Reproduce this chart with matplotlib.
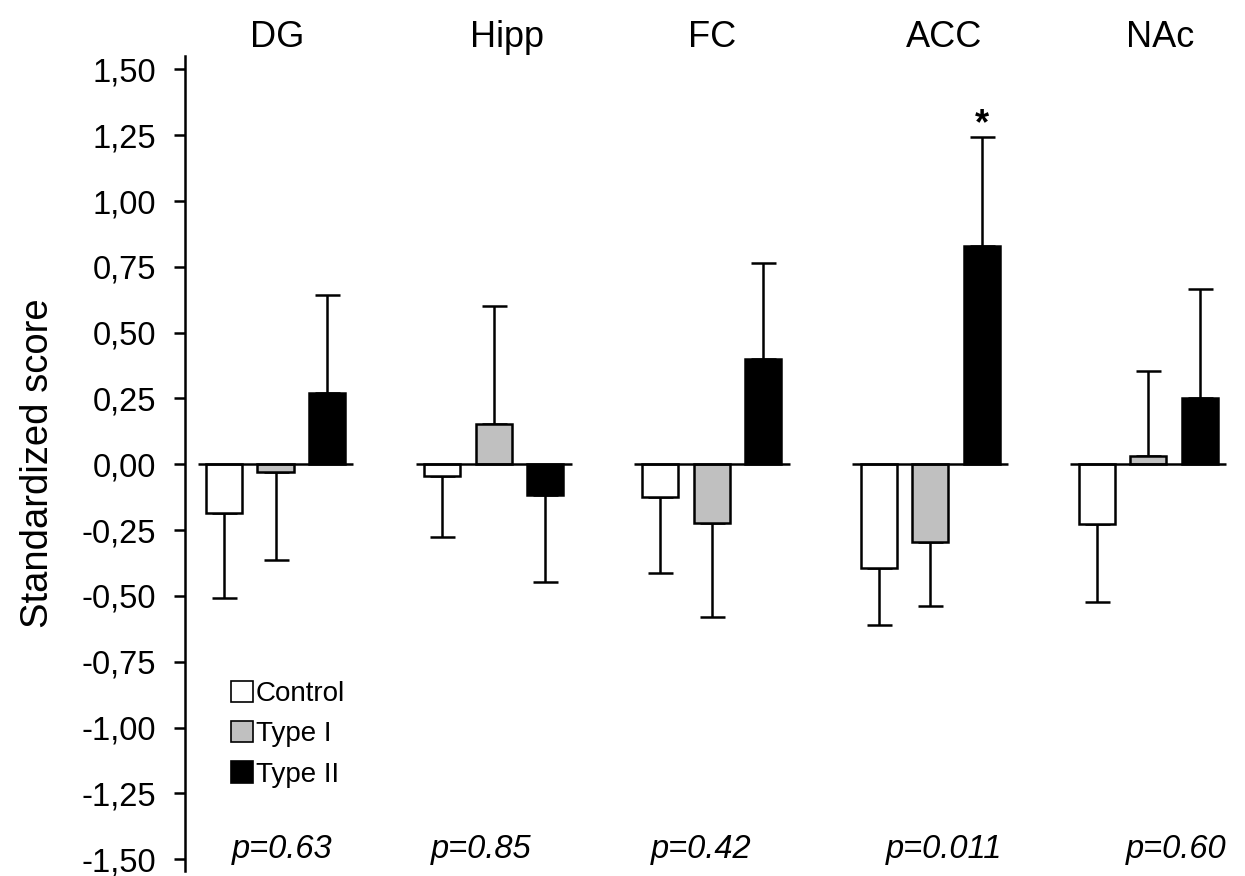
import matplotlib
matplotlib.use("Agg")
import matplotlib.pyplot as plt
import numpy as np
from matplotlib.patches import Patch

plt.rcParams['font.family'] = ['Liberation Sans', 'DejaVu Sans']

# ---- data ----
regions = ["DG", "Hipp", "FC", "ACC", "NAc"]
groups = ["Control", "Type I", "Type II"]
control_mean = [-0.186, -0.043, -0.123, -0.393, -0.228]
type1_mean = [-0.030, 0.152, -0.224, -0.295, 0.033]
type2_mean = [0.270, -0.117, 0.401, 0.831, 0.253]
control_err = [0.323, 0.232, 0.290, 0.216, 0.296]
type1_err = [0.332, 0.449, 0.355, 0.245, 0.323]
type2_err = [0.373, 0.329, 0.363, 0.412, 0.412]
p_values = ["p=0.63", "p=0.85", "p=0.42", "p=0.011", "p=0.60"]
significant = [False, False, False, True, False]
yticks = [-1.5, -1.25, -1.0, -0.75, -0.5, -0.25, 0.0, 0.25, 0.5, 0.75, 1.0, 1.25, 1.5]

# ---- style ----
colors = ["white", "#c0c0c0", "black"]
offsets = [-0.236, 0.0, 0.236]
bar_w = 0.165
LW = 1.8

fig = plt.figure(figsize=(12.45, 8.76), dpi=100)
ax = fig.add_axes([185 / 1245, 5 / 876, 1060 / 1245, 815 / 876])

means = [control_mean, type1_mean, type2_mean]
errs = [control_err, type1_err, type2_err]
x = np.arange(len(regions))

for g in range(3):
    m = np.array(means[g])
    e = np.array(errs[g])
    xs = x + offsets[g]
    ax.bar(xs, m, width=bar_w, color=colors[g], edgecolor="black",
           linewidth=LW, zorder=3)
    lower = np.where(m < 0, e, 0)
    upper = np.where(m >= 0, e, 0)
    ax.errorbar(xs, m, yerr=[lower, upper], fmt="none", ecolor="black",
                elinewidth=LW, capsize=9, capthick=LW, zorder=2)

# baseline per group
for i in x:
    ax.plot([i - 0.357, i + 0.357], [0, 0], color="black", lw=LW, zorder=4,
            solid_capstyle="butt")

def px2x(p):
    return (p - 275.5) / 218.2

title_px = [277, 507, 712, 944, 1160]
p_px = [282, 481, 701, 944, 1176]
for i, r in enumerate(regions):
    ax.text(px2x(title_px[i]), 1.585, r, ha="center", va="baseline",
            fontsize=26, clip_on=False)
    ax.text(px2x(p_px[i]), -1.495, p_values[i], ha="center", va="baseline",
            fontsize=23.5, style="italic")
    if significant[i]:
        top = type2_mean[i] + type2_err[i]
        ax.text(x[i] + offsets[2], top + 0.012, "*", ha="center",
                va="baseline", fontsize=26, fontweight="bold")

ax.set_xlim(px2x(185), px2x(1245))
ax.set_ylim(-1.545, 1.551)
ax.set_yticks(yticks)
ax.set_yticklabels([f"{v:.2f}".replace(".", ",") for v in yticks])
ax.tick_params(axis="y", direction="out", length=8, width=LW, labelsize=23.5,
               pad=13)
ax.set_xticks([])
for s in ["top", "right", "bottom"]:
    ax.spines[s].set_visible(False)
ax.spines["left"].set_linewidth(LW)
ax.set_ylabel("Standardized score", fontsize=27.5, labelpad=18)

handles = [Patch(facecolor=c, edgecolor="black", linewidth=1.2) for c in colors]
leg = ax.legend(handles, groups, loc="upper left",
                bbox_to_anchor=(231 / 1245, 1 - 681 / 876),
                bbox_transform=fig.transFigure, frameon=False,
                fontsize=20, handlelength=0.8, handleheight=0.8,
                handletextpad=0.1, labelspacing=0.5, borderpad=0,
                borderaxespad=0)

fig.savefig("out.png", dpi=100)
